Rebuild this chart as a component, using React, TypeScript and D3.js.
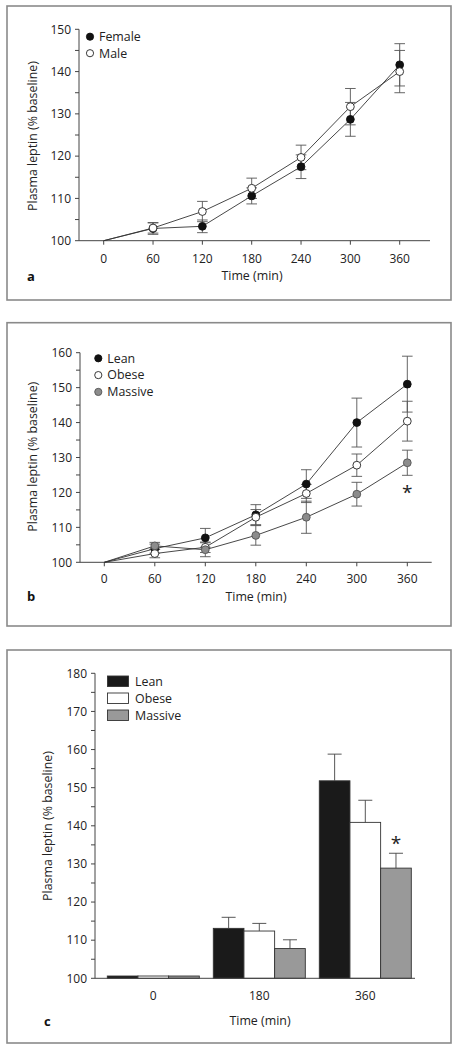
import React from "react";
import * as d3 from "d3";

// ---------- DATA ----------
const timesMin = [0, 60, 120, 180, 240, 300, 360];

// Panel a
const femaleMean = [100, 102.9, 103.4, 110.6, 117.5, 128.7, 141.6];
const femaleErr = [0, 1.4, 1.5, 1.9, 2.8, 4.0, 5.0];
const maleMean = [100, 103.0, 106.9, 112.4, 119.7, 131.7, 140.0];
const maleErr = [0, 1.2, 2.4, 2.4, 2.9, 4.3, 5.0];

// Panel b
const leanMean = [100, 103.9, 107.0, 113.6, 122.4, 140.0, 151.0];
const leanErr = [0, 1.3, 2.7, 2.9, 4.1, 7.0, 8.0];
const obeseMean = [100, 102.5, 104.3, 112.9, 119.7, 127.8, 140.4];
const obeseErr = [0, 1.2, 1.5, 2.2, 2.6, 3.2, 5.7];
const massiveMean = [100, 104.7, 103.6, 107.7, 112.9, 119.5, 128.5];
const massiveErr = [0, 1.0, 2.0, 2.8, 4.6, 3.4, 3.6];

// Panel c
const barGroups = ["0", "180", "360"];
const barSeries = ["Lean", "Obese", "Massive"];
const barLean = [100.6, 113.1, 151.8];
const barLeanErr = [0, 2.9, 7.0];
const barObese = [100.6, 112.4, 140.9];
const barObeseErr = [0, 2.0, 5.8];
const barMassive = [100.6, 107.8, 128.9];
const barMassiveErr = [0, 2.3, 3.9];

const xTickLabels = ["0", "60", "120", "180", "240", "300", "360"];
const yTicksA = [100, 110, 120, 130, 140, 150];
const yTicksB = [100, 110, 120, 130, 140, 150, 160];
const yTicksC = [100, 110, 120, 130, 140, 150, 160, 170, 180];

const FONT = "'Open Sans', 'Noto Sans', sans-serif";
const TXT = "#222";
const AX = "#444";
const FS = 12;
const FS_LBL = 12.4;
const FS_LEG = 12.4;

type Series = { name: string; mean: number[]; err: number[]; fill: string; stroke: string };

function YAxis({ y, x0, ticks, max, min }: { y: d3.ScaleLinear<number, number>; x0: number; ticks: number[]; max: number; min: number }) {
  const minor = d3.range(min, max + 0.001, 5);
  return (
    <g>
      <line x1={x0} x2={x0} y1={y(min)} y2={y(max)} stroke={AX} strokeWidth={1} />
      {minor.map((v) => (
        <line key={"m" + v} x1={x0 - 4} x2={x0} y1={y(v)} y2={y(v)} stroke={AX} strokeWidth={1} />
      ))}
      {ticks.map((v) => (
        <text key={v} x={x0 - 8} y={y(v) + 4.3} textAnchor="end" fontSize={FS} fill={TXT} fontFamily={FONT}>
          {v}
        </text>
      ))}
    </g>
  );
}

function LinePanel({
  top, bottom, x0, xEnd, xr, yDomain, yRange, yTicks, series, legendX, legendY, legendDy, tickLabelY, titleX, titleY, labelY, letter, letterY, asterisk,
}: any) {
  const x = d3.scaleLinear().domain([0, 360]).range(xr);
  const y = d3.scaleLinear().domain(yDomain).range(yRange);
  const line = d3.line<number>().x((_, i) => x(timesMin[i])).y((d) => y(d));
  const cap = 5.3;
  return (
    <g>
      <rect x={7} y={top} width={444} height={bottom - top} fill="none" stroke="#8a8a8a" strokeWidth={1.6} />
      <YAxis y={y} x0={x0} ticks={yTicks} min={yDomain[0]} max={yDomain[1]} />
      <line x1={x0} x2={xEnd} y1={y(yDomain[0])} y2={y(yDomain[0])} stroke={AX} strokeWidth={1} />
      {timesMin.map((t, i) => (
        <g key={t}>
          <line x1={x(t)} x2={x(t)} y1={y(yDomain[0])} y2={y(yDomain[0]) + 4} stroke={AX} strokeWidth={1} />
          <text x={x(t)} y={tickLabelY} textAnchor="middle" fontSize={FS} fill={TXT} fontFamily={FONT}>
            {xTickLabels[i]}
          </text>
        </g>
      ))}
      <text x={titleX} y={titleY} textAnchor="middle" fontSize={FS_LBL} fill={TXT} fontFamily={FONT}>Time (min)</text>
      <text transform={`translate(${labelY[0]},${labelY[1]}) rotate(-90)`} textAnchor="middle" dominantBaseline="central" fontSize={FS_LBL} fill={TXT} fontFamily={FONT}>
        Plasma leptin (% baseline)
      </text>
      <text x={27} y={letterY} fontSize={13} fontWeight="bold" fill="#111" fontFamily={FONT}>{letter}</text>
      {series.map((s: Series) => (
        <path key={s.name} d={line(s.mean) || ""} fill="none" stroke="#333" strokeWidth={0.9} />
      ))}
      {series.map((s: Series) =>
        s.mean.map((m, i) =>
          s.err[i] > 0 ? (
            <g key={s.name + i} stroke="#555" strokeWidth={0.9}>
              <line x1={x(timesMin[i])} x2={x(timesMin[i])} y1={y(m - s.err[i])} y2={y(m + s.err[i])} />
              <line x1={x(timesMin[i]) - cap} x2={x(timesMin[i]) + cap} y1={y(m + s.err[i])} y2={y(m + s.err[i])} />
              <line x1={x(timesMin[i]) - cap} x2={x(timesMin[i]) + cap} y1={y(m - s.err[i])} y2={y(m - s.err[i])} />
            </g>
          ) : null
        )
      )}
      {series.map((s: Series) =>
        s.mean.map((m, i) =>
          i > 0 ? <circle key={s.name + "p" + i} cx={x(timesMin[i])} cy={y(m)} r={3.9} fill={s.fill} stroke={s.stroke} strokeWidth={0.9} /> : null
        )
      )}
      {series.map((s: Series, k: number) => (
        <g key={"lg" + s.name}>
          <circle cx={legendX} cy={legendY + k * legendDy} r={3.6} fill={s.fill} stroke={s.stroke} strokeWidth={0.9} />
          <text x={legendX + 9} y={legendY + k * legendDy + 4.3} fontSize={FS_LEG} fill={TXT} fontFamily={FONT}>{s.name}</text>
        </g>
      ))}
      {asterisk ? (
        <text x={x(asterisk[0])} y={y(asterisk[1]) + 10} textAnchor="middle" fontSize={19} fill="#222" fontFamily={FONT}>*</text>
      ) : null}
    </g>
  );
}

function BarPanel() {
  const top = 650, bottom = 1043;
  const x0 = 95, xEnd = 415;
  const y = d3.scaleLinear().domain([100, 180]).range([978.3, 673.3]);
  const xg = d3.scaleBand().domain(barGroups).range([95, 423.6]).paddingInner(0.132).paddingOuter(0.116);
  const xs = d3.scaleBand().domain(barSeries).range([0, xg.bandwidth()]);
  const means = [barLean, barObese, barMassive];
  const errs = [barLeanErr, barObeseErr, barMassiveErr];
  const fills = ["#1a1a1a", "#ffffff", "#999999"];
  const cap = 7;
  return (
    <g>
      <rect x={7} y={top} width={444} height={bottom - top} fill="none" stroke="#8a8a8a" strokeWidth={1.6} />
      <YAxis y={y} x0={x0} ticks={yTicksC} min={100} max={180} />
      {barGroups.map((g, gi) =>
        barSeries.map((s, si) => {
          const bx = (xg(g) || 0) + (xs(s) || 0);
          const v = means[si][gi];
          return (
            <rect key={g + s} x={bx} y={y(v)} width={xs.bandwidth()} height={y(100) - y(v)} fill={fills[si]} stroke="#333" strokeWidth={0.9} />
          );
        })
      )}
      {barGroups.map((g, gi) =>
        barSeries.map((s, si) => {
          const e = errs[si][gi];
          if (!e) return null;
          const cx = (xg(g) || 0) + (xs(s) || 0) + xs.bandwidth() / 2;
          const v = means[si][gi];
          return (
            <g key={"e" + g + s} stroke="#444" strokeWidth={0.9}>
              <line x1={cx} x2={cx} y1={y(v)} y2={y(v + e)} />
              <line x1={cx - cap} x2={cx + cap} y1={y(v + e)} y2={y(v + e)} />
            </g>
          );
        })
      )}
      <line x1={x0} x2={xEnd} y1={y(100)} y2={y(100)} stroke={AX} strokeWidth={1} />
      {barGroups.map((g) => (
        <text key={g} x={(xg(g) || 0) + xg.bandwidth() / 2} y={999.5} textAnchor="middle" fontSize={FS} fill={TXT} fontFamily={FONT}>{g}</text>
      ))}
      <text x={260} y={1024.5} textAnchor="middle" fontSize={FS_LBL} fill={TXT} fontFamily={FONT}>Time (min)</text>
      <text transform="translate(47,826) rotate(-90)" textAnchor="middle" dominantBaseline="central" fontSize={FS_LBL} fill={TXT} fontFamily={FONT}>
        Plasma leptin (% baseline)
      </text>
      <text x={44} y={1026} fontSize={13} fontWeight="bold" fill="#111" fontFamily={FONT}>c</text>
      {barSeries.map((s, k) => (
        <g key={"lg" + s}>
          <rect x={107.5} y={676 + k * 17} width={21} height={10.5} fill={fills[k]} stroke="#333" strokeWidth={0.9} />
          <text x={135} y={685.8 + k * 17} fontSize={FS_LEG} fill={TXT} fontFamily={FONT}>{s}</text>
        </g>
      ))}
      <text x={(xg("360") || 0) + (xs("Massive") || 0) + xs.bandwidth() / 2} y={850} textAnchor="middle" fontSize={19} fill="#222" fontFamily={FONT}>*</text>
    </g>
  );
}

export default function App() {
  const seriesA: Series[] = [
    { name: "Female", mean: femaleMean, err: femaleErr, fill: "#111", stroke: "#111" },
    { name: "Male", mean: maleMean, err: maleErr, fill: "#fff", stroke: "#222" },
  ];
  const seriesB: Series[] = [
    { name: "Lean", mean: leanMean, err: leanErr, fill: "#111", stroke: "#111" },
    { name: "Obese", mean: obeseMean, err: obeseErr, fill: "#fff", stroke: "#222" },
    { name: "Massive", mean: massiveMean, err: massiveErr, fill: "#8c8c8c", stroke: "#555" },
  ];
  return (
    <svg width={457} height={1050} style={{ position: "absolute", left: 0, top: 0, background: "#fff" }}>
      <rect x={0} y={0} width={457} height={1050} fill="#fff" />
      <LinePanel
        top={6} bottom={300} x0={79} xEnd={430} xr={[103.7, 399.7]} yDomain={[100, 150]} yRange={[240.7, 29.3]} yTicks={yTicksA}
        series={seriesA} legendX={90} legendY={36.7} legendDy={16.5} tickLabelY={262.5} titleX={252} titleY={279.5}
        labelY={[32, 136]} letter="a" letterY={281}
      />
      <LinePanel
        top={322.7} bottom={626} x0={80} xEnd={431.7} xr={[104.3, 407.3]} yDomain={[100, 160]} yRange={[562.3, 352.7]} yTicks={yTicksB}
        series={seriesB} legendX={98.3} legendY={358.3} legendDy={16.8} tickLabelY={582.5} titleX={256} titleY={601}
        labelY={[32.7, 456.7]} letter="b" letterY={601}
      asterisk={[360, 121]}
      />
      <BarPanel />
    </svg>
  );
}
